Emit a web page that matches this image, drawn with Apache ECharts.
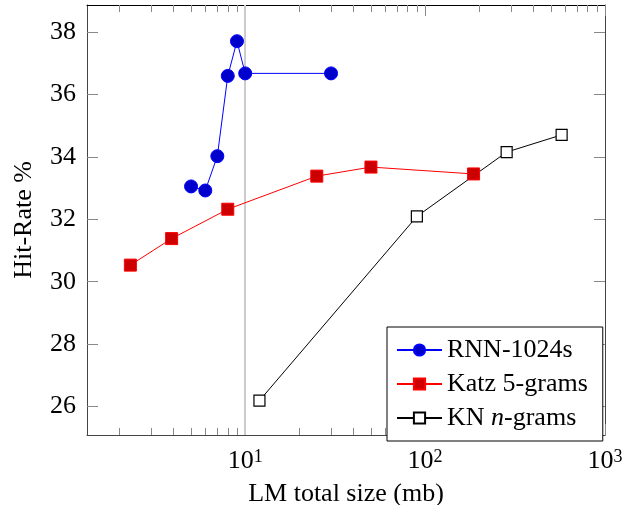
<!DOCTYPE html>
<html>
<head>
<meta charset="utf-8">
<script src="https://cdn.jsdelivr.net/npm/echarts@6/dist/echarts.min.js"></script>
<style>html,body{margin:0;padding:0;background:#fff}#c{width:636px;height:505px}</style>
</head>
<body>
<div id="c"></div>
<script>
// ---- data ----
const seriesNames = ['RNN-1024s', 'Katz 5-grams', 'KN n-grams'];
const rnnX = [5, 6, 7, 8, 9, 10, 30];
const rnnY = [33.05, 32.92, 34.02, 36.59, 37.70, 36.67, 36.67];
const katzX = [2.3, 3.9, 8, 25, 50, 186];
const katzY = [30.53, 31.38, 32.32, 33.38, 33.67, 33.45];
const knX = [12, 90, 284, 574];
const knY = [26.19, 32.09, 34.15, 34.70];
const xMajorTicks = [10, 100, 1000];
const xMinorTicks = [2, 3, 4, 5, 6, 7, 8, 9, 20, 30, 40, 50, 60, 70, 80, 90, 200, 300, 400, 500, 600, 700, 800, 900];
const yTicks = [26, 28, 30, 32, 34, 36, 38];
const refLineX = 10;

const FONT = '"Liberation Serif", "Times New Roman", serif';
const zip = (xs, ys) => xs.map((x, i) => [x, ys[i]]);
const xMin = 1.32, xMax = 1000, yMin = 25.09, yMax = 38.86;

function logAxis(extra) {
  return Object.assign({
    type: 'log', logBase: 10, min: xMin, max: xMax, gridIndex: 0,
    splitLine: {show: false}, minorSplitLine: {show: false},
    axisLine: {show: false},
    axisLabel: {show: false},
    axisTick: {show: false}
  }, extra);
}

const chart = echarts.init(document.getElementById('c'), null, {renderer: 'canvas'});
chart.setOption({
  animation: false,
  backgroundColor: '#fff',
  textStyle: {fontFamily: FONT},
  grid: {left: 87, top: 5, width: 518, height: 430, containLabel: false, outerBoundsMode: 'none'},
  xAxis: [
    logAxis({
      position: 'bottom',
      axisLine: {show: true, onZero: false, lineStyle: {color: '#444', width: 1}},
      axisTick: {show: true, inside: true, length: 11, customValues: xMajorTicks, lineStyle: {color: '#888'}},
      axisLabel: {
        show: true, customValues: xMajorTicks, margin: 13,
        fontFamily: FONT,
        formatter: v => '{b|10}{s|' + Math.round(Math.log10(v)) + '}',
        rich: {
          b: {fontFamily: FONT, fontSize: 26, color: '#000', lineHeight: 26, verticalAlign: 'bottom'},
          s: {fontFamily: FONT, fontSize: 18, color: '#000', lineHeight: 26, verticalAlign: 'top', padding: [0, 0, 8, 0]}
        }
      },
      name: 'LM total size (mb)', nameLocation: 'middle', nameGap: 46,
      nameTextStyle: {fontFamily: FONT, fontSize: 26, color: '#000'}
    }),
    logAxis({
      position: 'bottom',
      axisTick: {show: true, inside: true, length: 7, customValues: xMinorTicks, lineStyle: {color: '#888'}}
    }),
    logAxis({
      position: 'top',
      axisLine: {show: true, onZero: false, lineStyle: {color: '#000', width: 1}},
      axisTick: {show: true, inside: true, length: 11, customValues: xMajorTicks, lineStyle: {color: '#888'}}
    }),
    logAxis({
      position: 'top',
      axisTick: {show: true, inside: true, length: 7, customValues: xMinorTicks, lineStyle: {color: '#888'}}
    })
  ],
  yAxis: [
    {
      type: 'value', min: yMin, max: yMax, position: 'left',
      splitLine: {show: false},
      axisLine: {show: true, onZero: false, lineStyle: {color: '#444', width: 1}},
      axisTick: {show: true, inside: true, length: 11, customValues: yTicks, lineStyle: {color: '#888'}},
      axisLabel: {show: true, customValues: yTicks, margin: 11, fontFamily: FONT, fontSize: 26, color: '#000'},
      name: 'Hit-Rate %', nameLocation: 'middle', nameGap: 50, nameRotate: 90,
      nameTextStyle: {fontFamily: FONT, fontSize: 26, color: '#000'}
    },
    {
      type: 'value', min: yMin, max: yMax, position: 'right',
      splitLine: {show: false},
      axisLine: {show: true, onZero: false, lineStyle: {color: '#444', width: 1}},
      axisTick: {show: true, inside: true, length: 11, customValues: yTicks, lineStyle: {color: '#888'}},
      axisLabel: {show: false}
    }
  ],
  legend: {
    orient: 'vertical',
    left: 387, top: 327,
    padding: [10, 15, 10, 9],
    itemGap: 8, itemWidth: 45, itemHeight: 14,
    backgroundColor: '#fff', borderColor: '#000', borderWidth: 1, borderRadius: 0,
    data: seriesNames,
    formatter: name => name === 'KN n-grams' ? '{r|KN }{i|n}{r|-grams}' : '{r|' + name + '}',
    textStyle: {
      fontFamily: FONT, fontSize: 26, color: '#000',
      rich: {
        r: {fontFamily: FONT, fontSize: 26, color: '#000', lineHeight: 24},
        i: {fontFamily: FONT, fontSize: 26, color: '#000', fontStyle: 'italic', lineHeight: 24}
      }
    }
  },
  series: [
    {
      name: seriesNames[0], type: 'line', xAxisIndex: 0, yAxisIndex: 0,
      data: zip(rnnX, rnnY),
      symbol: 'circle', symbolSize: 13,
      lineStyle: {color: '#0000ff', width: 1},
      itemStyle: {color: '#0000cc', borderColor: '#0000ff', borderWidth: 1},
      z: 3,
      markLine: {
        silent: true, symbol: 'none', label: {show: false},
        lineStyle: {color: '#cccccc', width: 2, type: 'solid'},
        data: [{xAxis: refLineX}],
        z: 1
      }
    },
    {
      name: seriesNames[1], type: 'line', xAxisIndex: 0, yAxisIndex: 0,
      data: zip(katzX, katzY),
      symbol: 'rect', symbolSize: 12,
      lineStyle: {color: '#ff0000', width: 1},
      itemStyle: {color: '#cc0000', borderColor: '#ff0000', borderWidth: 1},
      z: 3
    },
    {
      name: seriesNames[2], type: 'line', xAxisIndex: 0, yAxisIndex: 0,
      data: zip(knX, knY),
      symbol: 'rect', symbolSize: 11,
      lineStyle: {color: '#000', width: 1},
      itemStyle: {color: '#fff', borderColor: '#000', borderWidth: 1.2},
      z: 3
    }
  ]
});
</script>
</body>
</html>
